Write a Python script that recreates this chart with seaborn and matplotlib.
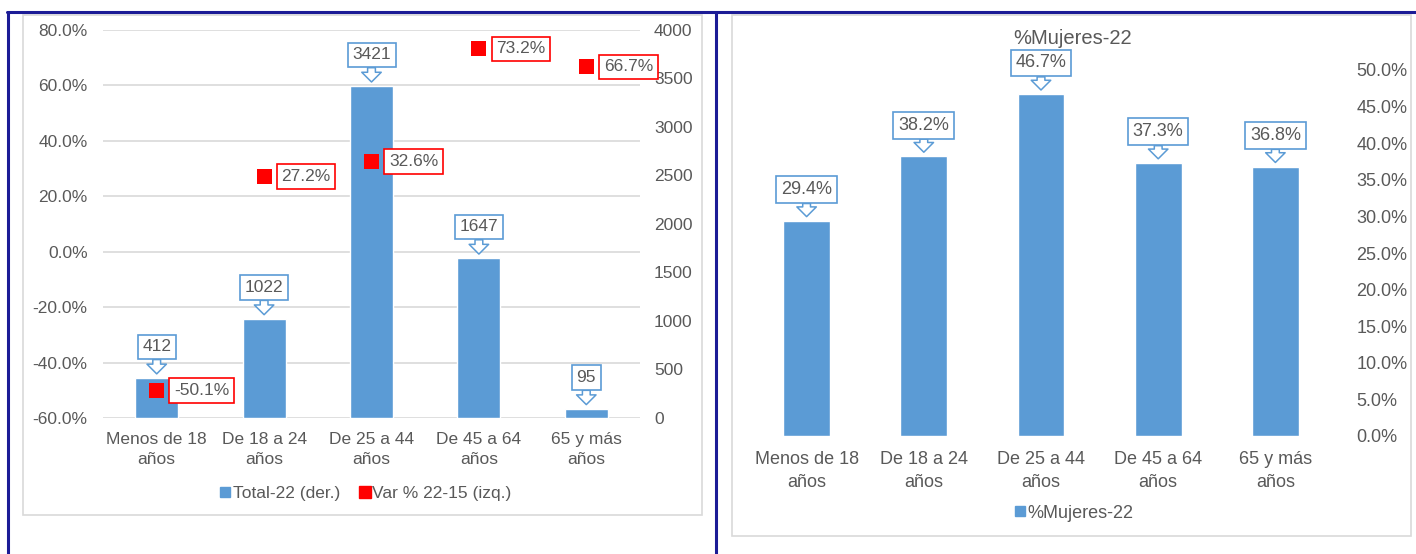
import numpy as np
import pandas as pd
import matplotlib
matplotlib.use("Agg")
import matplotlib.pyplot as plt
import seaborn as sns
from matplotlib.lines import Line2D
from matplotlib.patches import Rectangle

# ---------------- data ----------------
categories = ["Menos de 18\naños", "De 18 a 24\naños", "De 25 a 44\naños",
              "De 45 a 64\naños", "65 y más\naños"]
total_22 = [412, 1022, 3421, 1647, 95]
var_22_15 = [-50.1, 27.2, 32.6, 73.2, 66.7]
mujeres_22 = [29.4, 38.2, 46.7, 37.3, 36.8]

left_ticks_pct = [-60, -40, -20, 0, 20, 40, 60, 80]
right_ticks_total = [0, 500, 1000, 1500, 2000, 2500, 3000, 3500, 4000]
right_ticks_muj = [0, 5, 10, 15, 20, 25, 30, 35, 40, 45, 50]

BLUE = "#5B9BD5"
RED = "#FF0000"
GREY = "#595959"
GRID = "#D9D9D9"
NAVY = "#1C1C96"

sns.set_theme(style="white")
plt.rcParams["font.family"] = ["Liberation Sans", "DejaVu Sans"]

W, H = 1416, 554
fig = plt.figure(figsize=(W / 100, H / 100), dpi=100)


def frac_rect(x0, y0, x1, y1):
    return [x0 / W, 1 - y1 / H, (x1 - x0) / W, (y1 - y0) / H]


def callout(ax, x, y, text, fs):
    ax.annotate(text, xy=(x, y), xytext=(0, 22.5), textcoords="offset points",
                ha="center", va="center", fontsize=fs, color=GREY,
                bbox=dict(boxstyle="square,pad=0.27", fc="white", ec=BLUE, lw=1.2),
                arrowprops=dict(arrowstyle="simple,head_length=0.5,head_width=1.0,tail_width=0.4",
                                fc="white", ec=BLUE, lw=1.1, shrinkA=0, shrinkB=3,
                                mutation_scale=14),
                zorder=5)


# ---------------- left chart ----------------
FS_L = 12.5
ax_pct = fig.add_axes(frac_rect(103, 30, 640, 418))
ax_bar = ax_pct.twinx()
ax_mk = ax_pct.twinx()

df_l = pd.DataFrame({"cat": categories, "total": total_22, "var": var_22_15})

sns.barplot(data=df_l, x="cat", y="total", ax=ax_bar, color=BLUE, saturation=1,
            width=0.4, order=categories)
ax_bar.set_ylim(0, 4000)
ax_bar.set_yticks(right_ticks_total)
ax_bar.set_yticklabels([f"{t}" for t in right_ticks_total])
ax_bar.set_ylabel("")
ax_bar.set_xlabel("")

sns.scatterplot(data=df_l, x="cat", y="var", ax=ax_mk, marker="s", s=117,
                color=RED, edgecolor="none", legend=False, zorder=4)
ax_mk.set_ylim(-60, 80)
ax_mk.set_yticks([])
ax_mk.set_ylabel("")

ax_pct.set_ylim(-60, 80)
ax_pct.set_yticks(left_ticks_pct)
ax_pct.set_yticklabels([f"{t:.1f}%" for t in left_ticks_pct])
ax_pct.set_xlim(-0.5, len(categories) - 0.5)
ax_pct.set_xticks(range(len(categories)))
ax_pct.set_xticklabels(categories, linespacing=1.45)
ax_pct.set_xlabel("")
ax_pct.yaxis.grid(True, color=GRID, lw=1.2)
ax_pct.xaxis.grid(False)
ax_pct.set_axisbelow(True)

for a in (ax_pct, ax_bar, ax_mk):
    for s in a.spines.values():
        s.set_visible(False)
    a.tick_params(length=0, labelsize=FS_L, colors=GREY)
ax_pct.tick_params(axis="y", pad=11)
ax_pct.tick_params(axis="x", pad=10)
ax_bar.tick_params(axis="y", pad=10)

for i, v in enumerate(total_22):
    callout(ax_bar, i, v, f"{v}", FS_L)

for i, v in enumerate(var_22_15):
    ax_mk.annotate(f"{v:.1f}%", xy=(i, v), xytext=(12.5, 0), textcoords="offset points",
                   ha="left", va="center", fontsize=FS_L, color=GREY,
                   bbox=dict(boxstyle="square,pad=0.27", fc="white", ec=RED, lw=1.2),
                   zorder=6)

h1 = Line2D([], [], marker="s", ls="none", color=BLUE, markersize=7)
h2 = Line2D([], [], marker="s", ls="none", color=RED, markersize=9)
fig.legend([h1, h2], ["Total-22 (der.)", "Var % 22-15 (izq.)"], loc="center",
           bbox_to_anchor=(365 / W, 1 - 493 / H), ncol=2, frameon=False,
           handletextpad=0.05, columnspacing=1.0, handlelength=0.8,
           fontsize=FS_L, labelcolor=GREY)

# ---------------- right chart ----------------
FS_R = 13
ax_r = fig.add_axes(frac_rect(748, 70, 1334, 436))
df_r = pd.DataFrame({"cat": categories, "muj": mujeres_22})
sns.barplot(data=df_r, x="cat", y="muj", ax=ax_r, color=BLUE, saturation=1,
            width=0.4, order=categories)
ax_r.set_ylim(0, 50)
ax_r.set_xlim(-0.5, len(categories) - 0.5)
ax_r.yaxis.tick_right()
ax_r.set_yticks(right_ticks_muj)
ax_r.set_yticklabels([f"{t:.1f}%" for t in right_ticks_muj])
ax_r.set_xticks(range(len(categories)))
ax_r.set_xticklabels(categories, linespacing=1.45)
ax_r.set_xlabel("")
ax_r.set_ylabel("")
for s in ax_r.spines.values():
    s.set_visible(False)
ax_r.tick_params(length=0, labelsize=FS_R, colors=GREY)
ax_r.tick_params(axis="y", pad=16)
ax_r.tick_params(axis="x", pad=11)
for i, v in enumerate(mujeres_22):
    callout(ax_r, i, v, f"{v:.1f}%", FS_R)

fig.text(1073 / W, 1 - 38 / H, "%Mujeres-22", ha="center", va="center",
         fontsize=14.5, color=GREY)
h3 = Line2D([], [], marker="s", ls="none", color=BLUE, markersize=7)
fig.legend([h3], ["%Mujeres-22"], loc="center", bbox_to_anchor=(1073 / W, 1 - 513 / H),
           frameon=False, handletextpad=0.05, handlelength=0.8, fontsize=FS_R,
           labelcolor=GREY)

# ---------------- frames ----------------
for (x0, y0, x1, y1) in [(23, 15, 702, 515), (732, 15, 1411, 536)]:
    fig.add_artist(Rectangle((x0 / W, 1 - y1 / H), (x1 - x0) / W, (y1 - y0) / H,
                             transform=fig.transFigure, fill=False, ec=GRID, lw=1.2))
fig.add_artist(Line2D([7 / W, 1], [1 - 12 / H, 1 - 12 / H], transform=fig.transFigure,
                      color=NAVY, lw=2.2))
fig.add_artist(Line2D([8 / W, 8 / W], [0, 1 - 12 / H], transform=fig.transFigure,
                      color=NAVY, lw=2.2))
fig.add_artist(Line2D([716 / W, 716 / W], [0, 1 - 12 / H], transform=fig.transFigure,
                      color=NAVY, lw=2.2))

fig.savefig("out.png", dpi=100)
